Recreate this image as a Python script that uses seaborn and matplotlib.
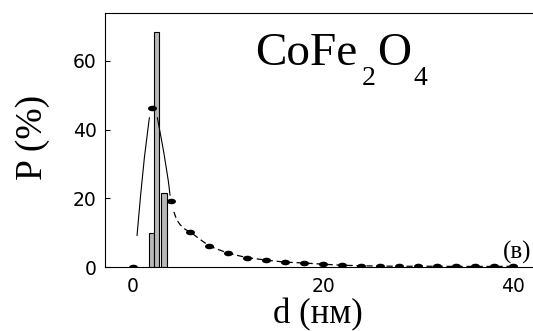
import matplotlib
matplotlib.use("Agg")
import matplotlib.pyplot as plt
from matplotlib.path import Path
from matplotlib.transforms import Affine2D
import seaborn as sns

# Particle size distribution of CoFe2O4
dot_d = [0, 2, 4, 6, 8, 10, 12, 14, 16, 18, 20, 22, 24, 26, 28, 30, 32, 34, 36, 38, 40]
dot_p = [0.0, 46.3, 19.4, 10.3, 6.2, 4.1, 2.8, 2.1, 1.5, 1.25, 0.9, 0.6,
         0.45, 0.35, 0.3, 0.3, 0.3, 0.25, 0.25, 0.25, 0.3]

# histogram bars
bar_d = [1.95, 2.5, 3.25]
bar_p = [10.0, 68.4, 21.7]

# fitted curve: rising and falling branches
rise_d = [0.42, 0.80, 1.20, 1.72]
rise_p = [9.2, 21.0, 32.0, 43.5]
fall_d = [2.56, 3.00, 3.26, 3.72, 3.90]
fall_p = [43.5, 37.0, 33.0, 25.0, 20.9]

# start of the dashed tail before it joins the points
tail_head_d = [4.30, 4.60, 4.95, 5.50]
tail_head_p = [16.1, 13.8, 12.4, 11.0]

y_ticks = [0, 20, 40, 60]
x_ticks = [0, 20, 40]

sns.set_theme(style="white")
plt.rcParams["font.family"] = ["DejaVu Sans"]
plt.rcParams["text.color"] = "black"
plt.rcParams["axes.labelcolor"] = "black"
serif = ["Liberation Serif", "DejaVu Serif"]

fig = plt.figure(figsize=(5.33, 3.31), dpi=100)
W, H = 533, 331
ax = fig.add_axes([105 / W, 1 - 267.3 / H, 1 - 105 / W, (267.3 - 13) / H])

sns.barplot(x=bar_d, y=bar_p, native_scale=True, width=1.0, color="#b8b8b8",
            saturation=1, edgecolor="black", linewidth=0.8, errorbar=None,
            ax=ax, zorder=2)

sns.lineplot(x=rise_d, y=rise_p, color="black", lw=0.8, estimator=None,
             sort=False, ax=ax, zorder=3)
sns.lineplot(x=fall_d, y=fall_p, color="black", lw=0.8, estimator=None,
             sort=False, ax=ax, zorder=3)
sns.lineplot(x=tail_head_d + dot_d[3:], y=tail_head_p + dot_p[3:], color="black",
             lw=0.9, linestyle=(0, (5, 3)), estimator=None, sort=False, ax=ax,
             zorder=3)

ellipse = Path.unit_circle().transformed(Affine2D().scale(1.0, 0.62))
sns.scatterplot(x=dot_d, y=dot_p, marker=ellipse, s=42, color="black",
                linewidth=0, ax=ax, zorder=4)

ax.set_xlim(-2.95, 42.1)
ax.set_ylim(0, 73.9)
ax.set_xticks(x_ticks)
ax.set_xticklabels([str(t) for t in x_ticks])
ax.set_yticks(y_ticks)
ax.set_yticklabels([str(t) for t in y_ticks])
ax.tick_params(axis="y", direction="in", length=3.6, width=0.8, pad=6,
               labelsize=13.5, colors="black", left=True)
ax.tick_params(axis="x", length=0, pad=7.2, labelsize=13.5, colors="black")

for side in ("left", "bottom", "top"):
    ax.spines[side].set_visible(True)
    ax.spines[side].set_color("black")
    ax.spines[side].set_linewidth(0.8)
ax.spines["right"].set_visible(False)
ax.grid(False)

ax.set_ylabel("P (%)", fontsize=27, family=serif, va="center", color="black")
ax.yaxis.set_label_coords(-0.168, 0.51)
ax.set_xlabel("d (нм)", fontsize=25, family=serif, va="top", color="black")
ax.xaxis.set_label_coords(0.497, -0.122)

# chemical formula with lowered subscripts
t1 = ax.text(12.84, 58.8, "CoFe", fontsize=34, family=serif,
             ha="left", va="baseline", color="black")
t2 = ax.annotate("2", xy=(1, 0), xycoords=t1, xytext=(3, -7.1),
                 textcoords="offset points", fontsize=20, family=serif,
                 ha="left", va="baseline", color="black")
t3 = ax.annotate("O", xy=(1, 0), xycoords=(t2, t1), xytext=(1, 0),
                 textcoords="offset points", fontsize=34, family=serif,
                 ha="left", va="bottom", color="black")
t4 = ax.annotate("4", xy=(1, 0), xycoords=(t3, t2), xytext=(2, 0),
                 textcoords="offset points", fontsize=20, family=serif,
                 ha="left", va="bottom", color="black")

ax.text(41.96, 2.6, "(в)", fontsize=18, family=serif, ha="right",
        va="baseline", color="black")

fig.savefig("out.png", dpi=100)
